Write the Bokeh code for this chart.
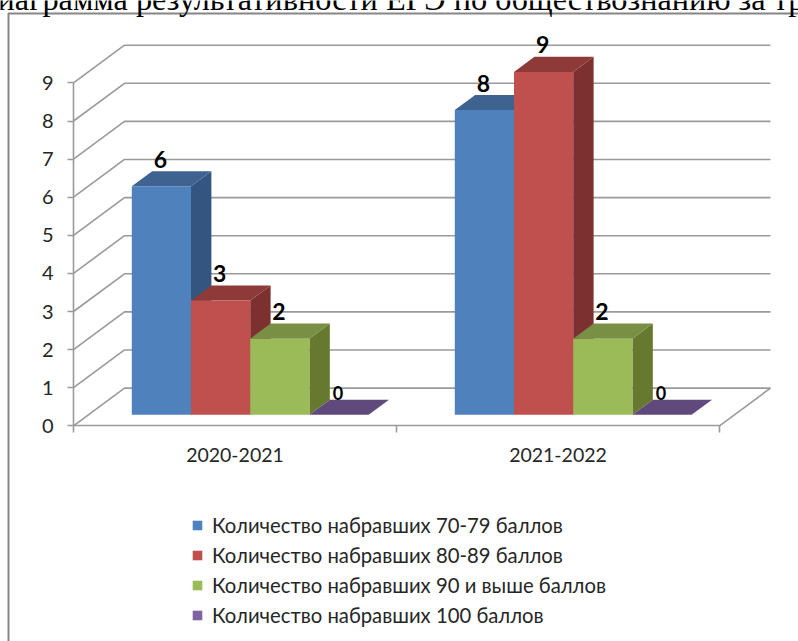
from bokeh.plotting import figure
from bokeh.embed import file_html
from bokeh.resources import INLINE
from bokeh.core.properties import value
from bokeh.models import (LinearAxis, FixedTicker, Legend, LegendItem, Label,
                          ColumnDataSource, Range1d)

periods = ["2020-2021", "2021-2022"]
series_names = ["Количество набравших 70-79 баллов", "Количество набравших 80-89 баллов",
                "Количество набравших 90 и выше баллов", "Количество набравших 100 баллов"]
s70_79 = [6, 8]
s80_89 = [3, 9]
s90_up = [2, 2]
s100 = [0, 0]
y_ticks = [0, 1, 2, 3, 4, 5, 6, 7, 8, 9]
title_text = "Диаграмма результативности ЕГЭ по обществознанию за тр"

front_cols = ["#4F81BD", "#C0504D", "#9BBB59", "#8064A2"]
side_cols = ["#34557F", "#7C302F", "#66792F", "#5A4573"]
top_cols = ["#3E6391", "#8E3A38", "#788F44", "#604A7B"]

# pixel scale of the projection
PX_X, PX_Y = 323.0, 38.1
X0, Y0 = 73.0, 425.3
W, H = 798, 641
TEXT = "#262626"
GRID = "#9a9a9a"
FONT = "Lato"

p = figure(width=W, height=H, output_backend="svg", toolbar_location=None, min_border=0,
           x_axis_type=None, y_axis_type=None,
           x_range=Range1d(-X0 / PX_X, (W - X0) / PX_X),
           y_range=Range1d((Y0 - H) / PX_Y, Y0 / PX_Y))
p.margin = (0, 0, 0, 0)
p.grid.visible = False
p.outline_line_color = None
p.background_fill_color = "white"

# chart box: only its left and top edges fall inside the picture
bx, by = (8 - X0) / PX_X, (Y0 - 13) / PX_Y
p.line([bx, bx, (W + 40 - X0) / PX_X], [(Y0 - H - 40) / PX_Y, by, by], line_color="#868686", line_width=2)

# oblique depth vector, per unit of depth, in data units
DX, DY = 51 / PX_X, 0.99

# walls
xs, ys = [], []
for v in y_ticks:
    xs.append([0, DX, 2 + DX])
    ys.append([v, v + DY, v + DY])
xs.append([2 + DX, 2])
ys.append([DY, 0])
p.multi_line(xs, ys, line_color=GRID, line_width=1.6)

# bars
GAP, BW = 0.1347, 0.1833
D1, D2 = 0.29, 0.69
ddx, ddy = (D2 - D1) * DX, (D2 - D1) * DY
all_series = [s70_79, s80_89, s90_up, s100]
fronts = []
lab_x, lab_y, lab_t, lab_s, lab_o = [], [], [], [], []
for si, vals in enumerate(all_series):
    L = [i + GAP + si * BW + D1 * DX for i in range(len(vals))]
    R = [a + BW for a in L]
    B = [D1 * DY] * len(vals)
    T = [v + D1 * DY for v in vals]
    p.patches([[r, r + ddx, r + ddx, r] for r in R],
              [[b, b + ddy, t + ddy, t] for b, t in zip(B, T)],
              fill_color=side_cols[si], line_color=None)
    p.patches([[l, l + ddx, r + ddx, r] for l, r in zip(L, R)],
              [[t, t + ddy, t + ddy, t] for t in T],
              fill_color=top_cols[si], line_color=None)
    fronts.append(p.quad(left=L, right=R, bottom=B, top=T, fill_color=front_cols[si], line_color=None))
    for l, r, t, v in zip(L, R, T, vals):
        lab_x.append((l + r) / 2)
        lab_y.append(t)
        lab_t.append(str(v))
        lab_s.append("23px" if v else "18px")
        lab_o.append(-27 if v else -22)

src = ColumnDataSource(dict(x=lab_x, y=lab_y, t=lab_t, s=lab_s, o=lab_o))
p.text(x="x", y="y", text="t", source=src, text_font=value(FONT), text_font_style="bold",
       text_font_size="s", text_align="center", text_baseline="middle", x_offset=-1, y_offset="o",
       text_color="#000000")

# axes
yax = LinearAxis(fixed_location=0, ticker=FixedTicker(ticks=y_ticks), bounds=(0, 9))
yax.axis_line_color = GRID
yax.axis_line_width = 1.6
yax.major_tick_line_color = GRID
yax.major_tick_line_width = 1.6
yax.major_tick_in = 0
yax.major_tick_out = 6
yax.minor_tick_line_color = None
yax.major_label_standoff = 14
yax.major_label_text_font = FONT
yax.major_label_text_font_size = "20px"
yax.major_label_text_color = TEXT
p.add_layout(yax, "left")

centres = [i + 0.5 for i in range(len(periods))]
xax = LinearAxis(fixed_location=0, bounds=(0, 2),
                 ticker=FixedTicker(ticks=centres, minor_ticks=list(range(len(periods) + 1))),
                 major_label_overrides={c: t for c, t in zip(centres, periods)})
xax.axis_line_color = GRID
xax.axis_line_width = 1.6
xax.major_tick_line_color = None
xax.minor_tick_line_color = GRID
xax.minor_tick_line_width = 1.6
xax.minor_tick_in = 0
xax.minor_tick_out = 7
xax.major_label_standoff = 15
xax.major_label_text_font = FONT
xax.major_label_text_font_size = "19.5px"
xax.major_label_text_color = TEXT
p.add_layout(xax, "below")

# clipped page heading
p.add_layout(Label(x=-25, y=H + 2, x_units="screen", y_units="screen", text=title_text,
                   text_font="Liberation Serif", text_font_size="32.3px", text_color="#000000",
                   text_baseline="alphabetic"))

legend = Legend(items=[LegendItem(label=n, renderers=[r]) for n, r in zip(series_names, fronts)],
                location=(191, 14), orientation="vertical")
legend.background_fill_color = None
legend.border_line_color = None
legend.glyph_width = 12
legend.glyph_height = 12
legend.label_standoff = 9
legend.spacing = 6
legend.padding = 8
legend.label_text_font = FONT
legend.label_text_font_size = "20.3px"
legend.label_text_color = TEXT
legend.label_height = 22
p.add_layout(legend, "center")

open("out.html", "w").write(file_html(p, INLINE))
